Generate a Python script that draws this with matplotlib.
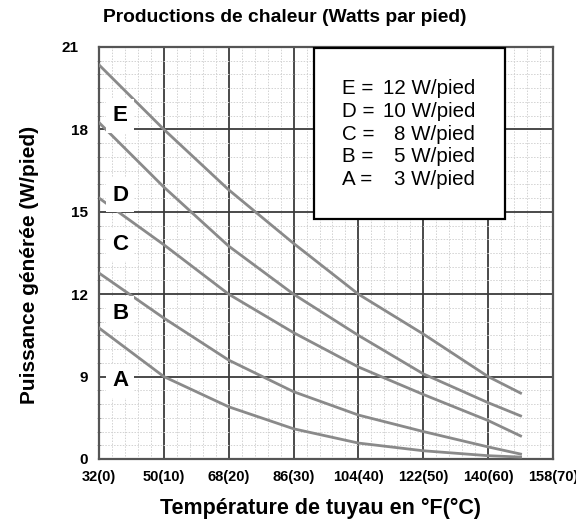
import matplotlib
matplotlib.use("Agg")
import matplotlib.pyplot as plt
from matplotlib.patches import Rectangle
from matplotlib.ticker import MultipleLocator
from matplotlib.transforms import ScaledTranslation

plt.rcParams['font.family'] = ['Liberation Sans', 'DejaVu Sans']

# Pipe temperature in °C (x) and heat output curves (plotted on the chart's y scale)
temps_c = [0, 10, 20, 30, 40, 50, 60, 65]
curve_E = [20.35, 18.0, 15.8, 13.85, 12.0, 10.55, 9.0, 8.4]
curve_D = [18.25, 15.9, 13.75, 12.0, 10.5, 9.1, 8.05, 7.57]
curve_C = [15.5, 13.8, 12.0, 10.6, 9.35, 8.35, 7.4, 6.84]
curve_B = [12.77, 11.13, 9.6, 8.45, 7.6, 7.0, 6.44, 6.18]
curve_A = [10.77, 9.0, 7.9, 7.1, 6.58, 6.3, 6.12, 6.07]

curve_names = ['E', 'D', 'C', 'B', 'A']
curve_ratings = ['12', '10', '8', '5', '3']
label_levels = [18.49, 15.61, 13.8, 11.31, 8.84]

x_ticks = [0, 10, 20, 30, 40, 50, 60, 70]
x_tick_labels = ['32(0)', '50(10)', '68(20)', '86(30)', '104(40)',
                 '122(50)', '140(60)', '158(70)']
y_ticks = [6, 9, 12, 15, 18, 21]
y_tick_labels = ['0', '9', '12', '15', '18', '21']

fig = plt.figure(figsize=(5.76, 5.29), dpi=100)
ax = fig.add_axes([99 / 576, 1 - 459 / 529, 454 / 576, 412 / 529])
ax.set_xlim(0, 70)
ax.set_ylim(6, 21)

# grid: solid majors, dotted minors
ax.xaxis.set_minor_locator(MultipleLocator(2))
ax.yaxis.set_minor_locator(MultipleLocator(0.5))
ax.set_xticks(x_ticks)
ax.set_xticklabels(x_tick_labels, fontsize=10.5, fontweight='bold')
ax.set_yticks(y_ticks)
ax.set_yticklabels(y_tick_labels, fontsize=11, fontweight='bold')
ax.grid(which='major', color='#3c3c3c', linewidth=1.3)
ax.grid(which='minor', color='#d2d2d2', linewidth=0.7, linestyle=(0, (1.5, 1.5)))
ax.tick_params(which='major', length=0, pad=8)
ax.tick_params(axis='y', which='minor', length=2.5, direction='inout', color='#999999')
ax.tick_params(axis='x', which='minor', length=0)
for sp in ax.spines.values():
    sp.set_color('#555555')
    sp.set_linewidth(1.6)

# the top value label sits a little further out
top_lbl = ax.get_yticklabels()[-1]
top_lbl.set_transform(top_lbl.get_transform() + ScaledTranslation(-9 / 100, 0, fig.dpi_scale_trans))

series = [curve_E, curve_D, curve_C, curve_B, curve_A]
for vals in series:
    ax.plot(temps_c, vals, color='#8a8a8a', linewidth=2.0, zorder=3)

# letter tags on the left of each curve
for name, lvl in zip(curve_names, label_levels):
    ax.text(3.25, lvl, name, fontsize=16, fontweight='bold', ha='center', va='center',
            zorder=5,
            bbox=dict(boxstyle='square,pad=0.28', facecolor='white', edgecolor='none'))

# key box
box = Rectangle((0.4736, 0.5825), 0.4207, 0.4151, transform=ax.transAxes,
                facecolor='white', edgecolor='black', linewidth=1.6, zorder=6)
ax.add_patch(box)
line_y = [89, 111.5, 134.5, 157, 180]
for name, rating, py in zip(curve_names, curve_ratings, line_y):
    fy = 1 - py / 529
    fig.text(342 / 576, fy, f'{name} =', fontsize=14.8, ha='left', va='center', zorder=7)
    fig.text(475 / 576, fy, f'{rating} W/pied', fontsize=14.8, ha='right', va='center', zorder=7)

fig.text(285 / 576, 1 - 18 / 529, 'Productions de chaleur (Watts par pied)',
         fontsize=13.9, fontweight='bold', ha='center', va='center')
fig.text(320 / 576, 1 - 508 / 529, 'Température de tuyau en °F(°C)',
         fontsize=15.5, fontweight='bold', ha='center', va='center')
fig.text(30 / 576, 1 - 265 / 529, 'Puissance générée (W/pied)',
         fontsize=15, fontweight='bold', ha='center', va='center', rotation=90)

fig.savefig('out.png', dpi=100)
